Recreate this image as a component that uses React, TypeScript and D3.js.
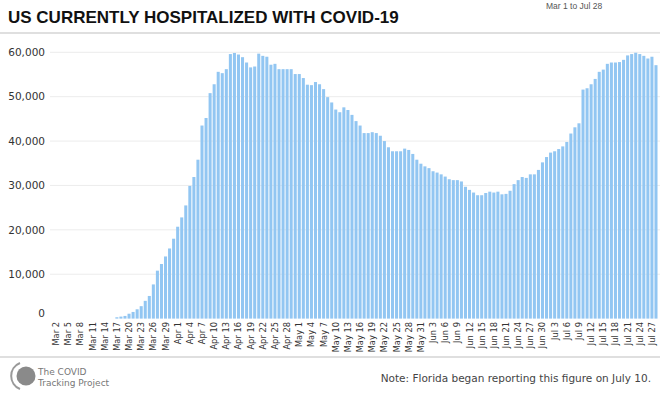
import React from "react"
import * as d3 from "d3"

// hospitalized, daily from Mar 1 to Jul 28 2020
const startDate = new Date(2020, 2, 1)
const endDate = new Date(2020, 6, 29)
const hospitalized = [
    0, 0, 0, 0, 0, 0, 0, 0, 0, 0, 0, 0, 0, 0, 0, 0,
    300, 450, 600, 1100, 1500, 2100, 2800, 4000, 5100, 7700, 10800, 12300, 14000, 15800, 18000,
    20700, 22800, 25500, 29900, 31900, 35800, 43500, 45200, 50800, 52800, 55600, 55300, 56200, 59600, 59850,
    59500, 58900, 57700, 56600, 56800, 59700, 59200, 59000, 57200, 57400, 56200, 56200, 56200, 56200, 55100,
    55100, 54200, 52700, 52600, 53300, 52800, 51700, 49900, 48700, 47100, 46500, 47600, 47000, 45900, 44500,
    43500, 41800, 41800, 42000, 41800, 41200, 40000, 38600, 37700, 37700, 37700, 38300, 38000, 37100, 35800, 34900,
    34300, 33900, 33200, 32900, 32500, 32000, 31400, 31200, 31200, 30900, 29700, 29000, 28400, 27800, 27800,
    28300, 28600, 28400, 28600, 28000, 28100, 28800, 30300, 31200, 31900, 31700, 32500, 32500, 33500, 35200,
    36400, 37400, 37700, 38200, 38800, 39800, 41700, 43100, 44000, 51600, 51900, 52800, 54000, 55600, 56100,
    57400, 57700, 57700, 57800, 58300, 59300, 59600, 59900, 59600, 59200, 58600, 59000, 57100,
]
const yTicks = [0, 10000, 20000, 30000, 40000, 50000, 60000]

const title = "US CURRENTLY HOSPITALIZED WITH COVID-19"
const subtitle = "Mar 1 to Jul 28"
const note = "Note: Florida began reporting this figure on July 10."

const W = 660
const H = 396

function App() {
    const days = d3.timeDay.range(startDate, endDate)
    const fmt = d3.timeFormat("%b %-d")

    const x = d3
        .scaleBand<number>()
        .domain(d3.range(days.length))
        .range([50.5, 657.5])
        .paddingInner(0.25)
    const y = d3.scaleLinear().domain([0, 60000]).range([318.6, 52.3])
    const yFmt = d3.format(",")

    const tickIdx = d3.range(1, days.length, 3)
    const sans = "'DejaVu Sans', Verdana, sans-serif"

    return (
        <svg width={W} height={H} style={{ position: "absolute", left: 0, top: 0, background: "#fff" }}>
            <text x={8} y={23} fontFamily="'Liberation Sans Narrow', 'Liberation Sans', sans-serif"
                fontWeight="bold" fontSize={17} fill="#111">{title}</text>
            <text x={546} y={9} fontFamily="'Liberation Sans Narrow', 'Liberation Sans', sans-serif"
                fontSize={8.5} fill="#555">{subtitle}</text>
            <line x1={0} x2={W} y1={33} y2={33} stroke="#d4d4d4" strokeWidth={1.5} />

            {yTicks.map((t) => (
                <g key={t}>
                    {t > 0 && (
                        <line x1={50} x2={W} y1={y(t)} y2={y(t)} stroke="#ececec" strokeWidth={1} />
                    )}
                    <text x={45} y={y(t)} dy={t === 0 ? "-0.2em" : "0.35em"} textAnchor="end"
                        fontFamily={sans} fontSize={10.5} fill="#333">{yFmt(t)}</text>
                </g>
            ))}

            {hospitalized.map((v, i) => v > 0 && (
                <rect key={i} x={x(i)} y={y(v)} width={x.bandwidth()} height={y(0) - y(v)} fill="#92c6f2" />
            ))}

            {tickIdx.map((i) => {
                const cx = (x(i) as number) + x.bandwidth() / 2
                return (
                    <text key={i} transform={`translate(${cx + 3},322) rotate(-90)`} textAnchor="end"
                        fontFamily={sans} fontSize={8.3} fill="#333">{fmt(days[i])}</text>
                )
            })}

            <line x1={0} x2={W} y1={357} y2={357} stroke="#d4d4d4" strokeWidth={1.5} />

            <g>
                <path d="M 20 363 A 14 14 0 0 0 20 389" fill="none" stroke="#9a9a9a" strokeWidth={2} />
                <circle cx={26} cy={376} r={9.5} fill="#8a8a8a" />
                <text x={38} y={375} fontFamily={sans} fontSize={9} fill="#777">The COVID</text>
                <text x={38} y={386} fontFamily={sans} fontSize={9} fill="#777">Tracking Project</text>
            </g>
            <text x={651} y={382} textAnchor="end" fontFamily={sans} fontSize={10.5} fill="#444">{note}</text>
        </svg>
    )
}

export default App
